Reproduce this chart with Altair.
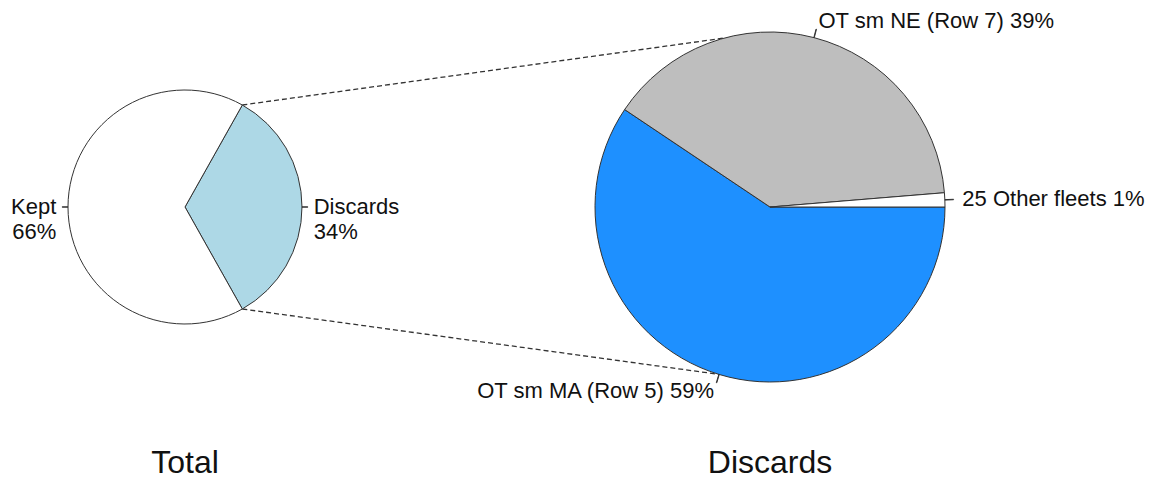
import math
import altair as alt
import pandas as pd

# ---------------- data ----------------
total_names = ["Discards", "Kept"]
total_values = [33.7, 66.3]
total_pct = ["34%", "66%"]
total_colors = ["#ADD8E6", "#FFFFFF"]

discard_names = ["OT sm MA (Row 5)", "OT sm NE (Row 7)", "25 Other fleets"]
discard_values = [59.4, 39.3, 1.3]
discard_pct = ["59%", "39%", "1%"]
discard_colors = ["#1E90FF", "#BEBEBE", "#FFFFFF"]

panel_titles = ["Total", "Discards"]
# where the dashed connectors meet the discards pie (deg, clockwise from 12 o'clock)
connector_end_angles = [-15.0, 197.0]

# ---------------- layout ----------------
W, H = 1144, 471
FONT = "Liberation Sans"
LCX, LCY, LR = 177, 199, 117
RCX, RCY, RR = 762, 199, 175
TITLE_Y = 465

discard_share = total_values[0] / sum(total_values)
left_start = 90 - discard_share * 360 / 2   # Discards slice centred on 3 o'clock
right_start = 90


def pie_layers(names, values, pcts, colors, sep, cx, cy, r, start_deg, title):
    df = pd.DataFrame({"name": names, "value": values, "pct": pcts,
                       "order": list(range(len(names)))})
    df["label"] = [f"{n}{sep}{p}" for n, p in zip(names, pcts)]
    s = math.radians(start_deg)
    tscale = alt.Scale(domain=[0, 100], range=[s, s + 2 * math.pi])
    cscale = alt.Scale(domain=names, range=colors)
    base = (
        alt.Chart(df)
        .transform_window(cum1="sum(value)", sort=[alt.SortField("order")], frame=[None, 0])
        .transform_calculate(cum0="datum.cum1 - datum.value")
        .transform_calculate(mid="(datum.cum0 + datum.cum1) / 2")
        .transform_calculate(tlo="datum.mid - 0.02")
        .transform_calculate(thi="datum.mid + 0.02")
        .transform_calculate(ang=f"{s} + datum.mid / 100 * 2 * PI")
    )
    slices = base.mark_arc(x=cx, y=cy, radius=r, stroke="#333333", strokeWidth=1).encode(
        theta=alt.Theta("cum0:Q", scale=tscale, stack=False),
        theta2="cum1:Q",
        color=alt.Color("name:N", scale=cscale, legend=None),
    )
    ticks = base.mark_arc(x=cx, y=cy, radius=r * 1.05, radius2=r, fillOpacity=0,
                          stroke="#333333", strokeWidth=1).encode(
        theta=alt.Theta("tlo:Q", scale=tscale, stack=False),
        theta2="thi:Q",
    )
    txt_kw = dict(x=cx, y=cy, radius=r * 1.1, baseline="middle", font=FONT,
                  fontSize=22, lineBreak="\n", lineHeight=25, color="#111111")
    right_txt = base.transform_filter("sin(datum.ang) >= 0").mark_text(
        align="left", **txt_kw).encode(
        theta=alt.Theta("mid:Q", scale=tscale, stack=False), text="label:N")
    left_txt = base.transform_filter("sin(datum.ang) < 0").mark_text(
        align="right", **txt_kw).encode(
        theta=alt.Theta("mid:Q", scale=tscale, stack=False), text="label:N")
    ttl = alt.Chart(pd.DataFrame({"t": [title]})).mark_text(
        x=cx, y=TITLE_Y, align="center", baseline="alphabetic", font=FONT,
        fontSize=32, color="#111111").encode(text="t:N")
    return [slices, ticks, right_txt, left_txt, ttl]


conn_df = pd.DataFrame({
    "a0": [left_start, left_start + discard_share * 360],
    "a1": connector_end_angles,
})
connectors = (
    alt.Chart(conn_df)
    .transform_calculate(
        x1=f"{LCX} + {LR} * sin(datum.a0 * PI / 180)",
        y1=f"{LCY} - {LR} * cos(datum.a0 * PI / 180)",
        x2=f"{RCX} + {RR} * sin(datum.a1 * PI / 180)",
        y2=f"{RCY} - {RR} * cos(datum.a1 * PI / 180)",
    )
    .mark_rule(color="#333333", strokeWidth=1.3, strokeDash=[5, 3])
    .encode(
        x=alt.X("x1:Q", scale=alt.Scale(domain=[0, W], nice=False, zero=False), axis=None),
        x2="x2:Q",
        y=alt.Y("y1:Q", scale=alt.Scale(domain=[0, H], nice=False, zero=False, reverse=True), axis=None),
        y2="y2:Q",
    )
)

layers = [connectors]
layers += pie_layers(total_names, total_values, total_pct, total_colors, "\n",
                     LCX, LCY, LR, left_start, panel_titles[0])
layers += pie_layers(discard_names, discard_values, discard_pct, discard_colors, " ",
                     RCX, RCY, RR, right_start, panel_titles[1])

chart = (
    alt.layer(*layers)
    .resolve_scale(theta="independent", color="independent", x="independent", y="independent")
    .properties(width=W, height=H, padding=0, autosize=alt.AutoSizeParams(type="none"))
    .configure_view(stroke=None)
)

chart.save("out.html", embed_options={"renderer": "svg", "actions": False})
